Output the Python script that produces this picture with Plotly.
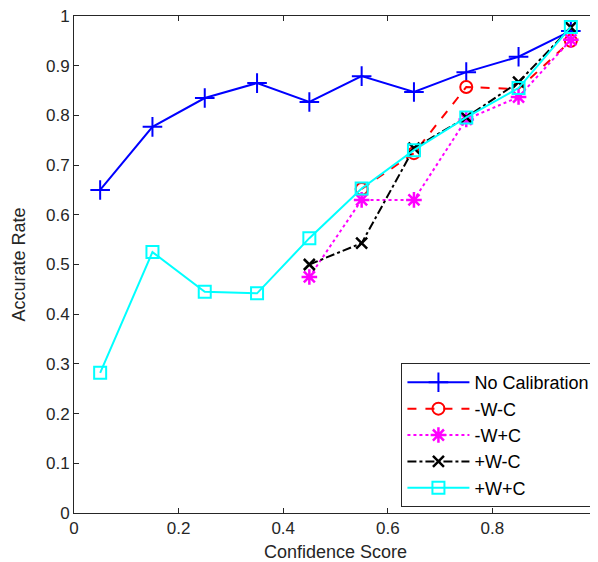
import plotly.graph_objects as go

x_scores = [0.05, 0.15, 0.25, 0.35, 0.45, 0.55, 0.65, 0.75, 0.85, 0.95]
no_calib = [0.650, 0.777, 0.835, 0.865, 0.827, 0.879, 0.847, 0.887, 0.918, 0.970]
x_late = [0.45, 0.55, 0.65, 0.75, 0.85, 0.95]
w_minus_c_minus = [None, 0.652, 0.724, 0.857, 0.853, 0.950]
w_minus_c_plus = [0.475, 0.630, 0.630, 0.792, 0.837, 0.952]
w_plus_c_minus = [0.500, 0.543, 0.734, 0.796, 0.867, 0.977]
w_plus_c_plus = [0.282, 0.525, 0.445, 0.442, 0.553, 0.653, 0.730, 0.796, 0.855, 0.978]

x_ticks = [0, 0.2, 0.4, 0.6, 0.8, 1]
x_tick_text = ["0", "0.2", "0.4", "0.6", "0.8", "1"]
y_ticks = [0, 0.1, 0.2, 0.3, 0.4, 0.5, 0.6, 0.7, 0.8, 0.9, 1]
y_tick_text = ["0", "0.1", "0.2", "0.3", "0.4", "0.5", "0.6", "0.7", "0.8", "0.9", "1"]

FONT = "Liberation Sans, Arial"
TXT = "#262626"

fig = go.Figure()
fig.add_trace(go.Scatter(x=x_scores, y=no_calib, name="No Calibration", mode="lines+markers",
                         line=dict(color="#0000ff", width=2),
                         marker=dict(symbol="cross-thin-open", size=14, line=dict(color="#0000ff", width=2))))
fig.add_trace(go.Scatter(x=x_late, y=w_minus_c_minus, name="-W-C", mode="lines+markers",
                         line=dict(color="#ff0000", width=2, dash="dash"),
                         marker=dict(symbol="circle-open", size=12, color="#ff0000", line=dict(width=2))))
fig.add_trace(go.Scatter(x=x_late, y=w_minus_c_plus, name="-W+C", mode="lines+markers",
                         line=dict(color="#ff00ff", width=2, dash="dot"),
                         marker=dict(symbol="asterisk-open", size=13, line=dict(color="#ff00ff", width=2.5))))
fig.add_trace(go.Scatter(x=x_late, y=w_plus_c_minus, name="+W-C", mode="lines+markers",
                         line=dict(color="#000000", width=2, dash="dashdot"),
                         marker=dict(symbol="x-thin-open", size=11, line=dict(color="#000000", width=2.5))))
fig.add_trace(go.Scatter(x=x_scores, y=w_plus_c_plus, name="+W+C", mode="lines+markers",
                         line=dict(color="#00ffff", width=2),
                         marker=dict(symbol="square-open", size=12, color="#00ffff", line=dict(width=2))))

axis_common = dict(showgrid=False, zeroline=False, showline=True, linecolor=TXT, linewidth=1,
                   mirror="ticks", ticks="inside", ticklen=5, tickcolor=TXT, automargin=False,
                   ticklabeloverflow="allow",
                   tickfont=dict(family=FONT, size=17, color=TXT))
fig.update_xaxes(range=[0, 1], tickvals=x_ticks, ticktext=x_tick_text,
                 title=dict(text="Confidence Score", font=dict(family=FONT, size=18, color=TXT)),
                 **axis_common)
fig.update_yaxes(range=[0, 1], tickvals=y_ticks, ticktext=y_tick_text,
                 title=dict(text="Accurate Rate", font=dict(family=FONT, size=18, color=TXT)),
                 **axis_common)

# page body has an 8px default margin; size the figure so it fits the 598x562 window
fig.update_layout(
    width=590, height=554,
    margin=dict(l=66, r=1, t=8, b=49),
    plot_bgcolor="white", paper_bgcolor="white",
    font=dict(family=FONT, size=17, color=TXT),
    legend=dict(x=0.997, y=0.012, xanchor="right", yanchor="bottom",
                bordercolor=TXT, borderwidth=1, bgcolor="white",
                itemwidth=62,
                font=dict(size=18, color="#000000"), tracegroupgap=0),
)

fig.write_html("out.html")
